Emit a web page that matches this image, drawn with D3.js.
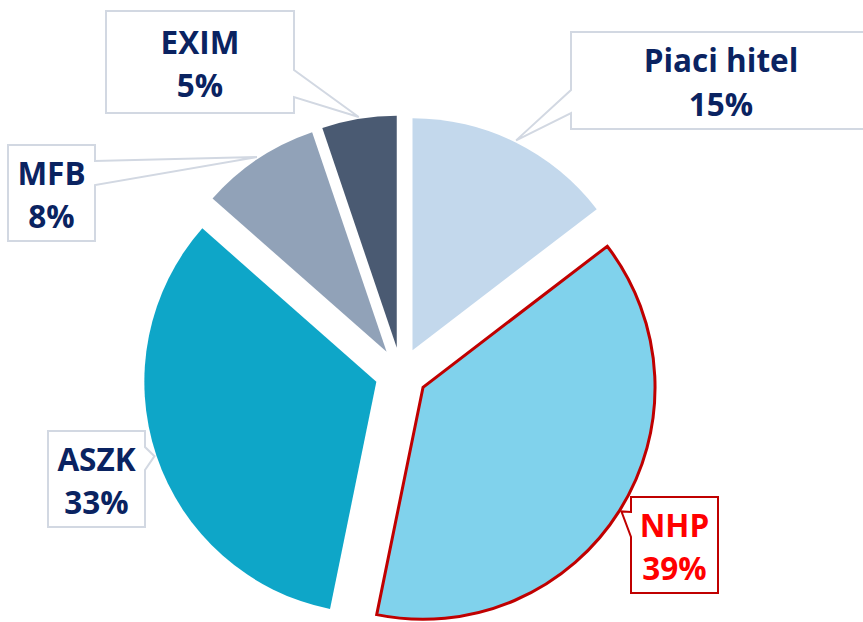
<!DOCTYPE html>
<html>
<head>
<meta charset="utf-8">
<script src="https://cdn.jsdelivr.net/npm/d3@7"></script>
<style>
  html, body { margin: 0; padding: 0; background: #fff; }
  svg { display: block; }
  .lbl { font-family: "Open Sans", "Noto Sans", sans-serif; font-weight: 700; }
</style>
</head>
<body>
<svg id="chart" width="863" height="622"></svg>
<script>
// data (shares, labels are rounded)
var categories = ["Piaci hitel", "NHP", "ASZK", "MFB", "EXIM"];
var shares = [14.6, 38.6, 33.3, 8.3, 5.2];
var sliceColors = ["#c3d8ec", "#80d2ec", "#0ea6c8", "#91a2b8", "#4a5a72"];

// callout boxes (layout only)
var callouts = {
  "Piaci hitel": { x: 571, y: 32, w: 300, h: 97, side: "left", p0: 90, p1: 113 },
  "NHP":         { x: 631, y: 497, w: 87, h: 96, side: "left", p0: 512, p1: 537 },
  "ASZK":        { x: 48, y: 431, w: 97, h: 96, side: "right", p0: 447, p1: 470 },
  "MFB":         { x: 8, y: 145, w: 87, h: 96, side: "right", p0: 161, p1: 185 },
  "EXIM":        { x: 106, y: 11, w: 188, h: 102, side: "right", p0: 70, p1: 97 }
};

var cx = 401, cy = 373.5, R = 232, explode = 26;
var highlight = "NHP";

var svg = d3.select("#chart");

var pie = d3.pie().sort(null).value(function(d) { return d; });
var arcs = pie(shares);
var arc = d3.arc().innerRadius(0).outerRadius(R);

var offset = function(a, dist) {
  return [Math.sin(a) * dist, -Math.cos(a) * dist];
};

var g = svg.append("g").attr("transform", "translate(" + cx + "," + cy + ")");

g.selectAll("path.slice")
  .data(arcs)
  .enter().append("path")
  .attr("class", "slice")
  .attr("d", arc)
  .attr("transform", function(d) {
    var o = offset((d.startAngle + d.endAngle) / 2, explode);
    return "translate(" + o[0] + "," + o[1] + ")";
  })
  .attr("fill", function(d, i) { return sliceColors[i]; })
  .attr("stroke", function(d, i) { return categories[i] == highlight ? "#c00000" : "none"; })
  .attr("stroke-width", 3)
  .attr("stroke-linejoin", "miter");

// callouts
var calloutPath = function(b, tip) {
  var x = b.x, y = b.y, w = b.w, h = b.h;
  if (b.side == "right") {
    return "M" + x + "," + y + "H" + (x + w) + "V" + b.p0 +
      "L" + tip[0] + "," + tip[1] + "L" + (x + w) + "," + b.p1 +
      "V" + (y + h) + "H" + x + "Z";
  }
  return "M" + x + "," + y + "H" + (x + w) + "V" + (y + h) + "H" + x +
    "V" + b.p1 + "L" + tip[0] + "," + tip[1] + "L" + x + "," + b.p0 + "Z";
};

arcs.forEach(function(d, i) {
  var name = categories[i];
  var b = callouts[name];
  var mid = (d.startAngle + d.endAngle) / 2;
  var o = offset(mid, explode);
  var e = offset(mid, R + 2);
  var tip = [cx + o[0] + e[0], cy + o[1] + e[1]];
  var isHi = name == highlight;

  svg.append("path")
    .attr("d", calloutPath(b, tip))
    .attr("fill", "#fff")
    .attr("stroke", isHi ? "#c00000" : "#d2d8e2")
    .attr("stroke-width", 2);

  var t = svg.append("text")
    .attr("class", "lbl")
    .attr("text-anchor", "middle")
    .attr("font-size", 31.5)
    .attr("fill", isHi ? "#ff0000" : "#0a2361");
  var mx = b.x + b.w / 2, my = b.y + b.h / 2;
  t.append("tspan").attr("x", mx).attr("y", my - 8.5).text(name);
  t.append("tspan").attr("x", mx).attr("y", my + 35).text(Math.round(shares[i]) + "%");
});
</script>
</body>
</html>
